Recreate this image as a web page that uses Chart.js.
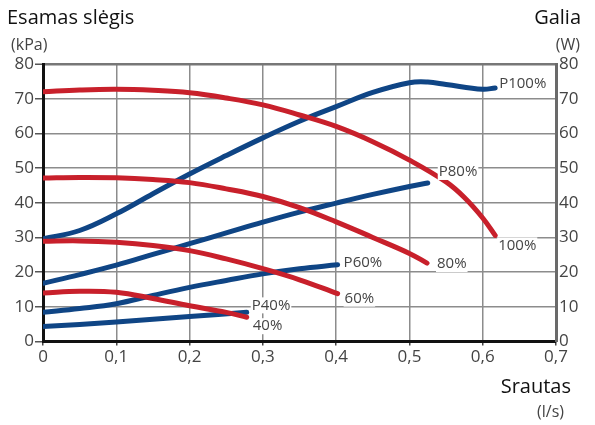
<!DOCTYPE html>
<html>
<head>
<meta charset="utf-8">
<script src="https://cdn.jsdelivr.net/npm/chart.js@4.4.1/dist/chart.umd.min.js"></script>
<style>
  html,body{margin:0;padding:0;background:#fff;}
  #wrap{position:relative;width:595px;height:425px;}
  canvas{display:block;}
</style>
</head>
<body>
<div id="wrap"><canvas id="c" width="595" height="425"></canvas></div>
<script>
// ---- data ----
const xTicks = [0, 0.1, 0.2, 0.3, 0.4, 0.5, 0.6, 0.7];
const yTicks = [0, 10, 20, 30, 40, 50, 60, 70, 80];

const pressureLabels = ['100%', '80%', '60%', '40%'];
const powerLabels = ['P100%', 'P80%', 'P60%', 'P40%'];

const flow100 = [0, 0.05, 0.1, 0.15, 0.2, 0.25, 0.3, 0.35, 0.4, 0.45, 0.5, 0.55, 0.575, 0.6, 0.617];
const press100 = [72.0, 72.5, 72.7, 72.4, 71.7, 70.2, 68.2, 65.3, 62.0, 57.6, 52.3, 46.0, 41.5, 35.6, 30.6];

const flow80 = [0, 0.05, 0.1, 0.15, 0.2, 0.25, 0.3, 0.35, 0.4, 0.45, 0.5, 0.524];
const press80 = [47.1, 47.3, 47.2, 46.7, 45.8, 44.0, 41.8, 38.6, 34.5, 30.0, 25.4, 22.6];

const flow60 = [0, 0.05, 0.1, 0.15, 0.2, 0.25, 0.3, 0.35, 0.402];
const press60 = [28.9, 29.0, 28.6, 27.7, 26.2, 23.8, 21.0, 17.8, 13.8];

const flow40 = [0, 0.05, 0.1, 0.15, 0.2, 0.25, 0.278];
const press40 = [14.0, 14.5, 14.2, 12.4, 10.3, 8.4, 7.0];

const flowP100 = [0, 0.05, 0.1, 0.15, 0.2, 0.25, 0.3, 0.35, 0.4, 0.45, 0.5, 0.525, 0.55, 0.6, 0.617];
const powerP100 = [29.6, 32.0, 36.8, 42.6, 48.3, 53.6, 58.7, 63.5, 67.7, 71.8, 74.6, 74.8, 74.1, 72.7, 73.1];

const flowP80 = [0, 0.05, 0.1, 0.15, 0.2, 0.25, 0.3, 0.35, 0.4, 0.45, 0.5, 0.525];
const powerP80 = [16.8, 19.3, 22.0, 25.1, 28.2, 31.3, 34.4, 37.3, 39.9, 42.4, 44.7, 45.7];

const flowP60 = [0, 0.05, 0.1, 0.15, 0.2, 0.25, 0.3, 0.35, 0.402];
const powerP60 = [8.4, 9.5, 10.9, 13.3, 15.6, 17.6, 19.5, 21.0, 22.1];

const flowP40 = [0, 0.1, 0.2, 0.278];
const powerP40 = [4.3, 5.6, 7.2, 8.4];

// ---- styling ----
const RED = '#c8202b';
const BLUE = '#0f4585';
const FONT = "'Open Sans', 'DejaVu Sans', sans-serif";

function pts(xs, ys) { return xs.map((x, i) => ({ x: x, y: ys[i] })); }

function mk(label, xs, ys, color, axis) {
  return {
    label: label,
    data: pts(xs, ys),
    borderColor: color,
    backgroundColor: color,
    borderWidth: 5,
    borderCapStyle: 'round',
    borderJoinStyle: 'round',
    pointRadius: 0,
    tension: 0.4,
    fill: false,
    yAxisID: axis
  };
}

const datasets = [
  mk(pressureLabels[0], flow100, press100, RED, 'yL'),
  mk(pressureLabels[1], flow80, press80, RED, 'yL'),
  mk(pressureLabels[2], flow60, press60, RED, 'yL'),
  mk(pressureLabels[3], flow40, press40, RED, 'yL'),
  mk(powerLabels[0], flowP100, powerP100, BLUE, 'yR'),
  mk(powerLabels[1], flowP80, powerP80, BLUE, 'yR'),
  mk(powerLabels[2], flowP60, powerP60, BLUE, 'yR'),
  mk(powerLabels[3], flowP40, powerP40, BLUE, 'yR')
];

// label offsets relative to each curve end (pixels): [dx, dy]
const endOffsets = [
  [3, 10], [10, 1], [7, 5], [6, 9],      // pressure labels
  [4, -4], [11, -11], [6, -2], [5, -7]   // power labels
];

const endLabels = {
  id: 'endLabels',
  afterDatasetsDraw(chart) {
    const ctx = chart.ctx;
    ctx.save();
    ctx.font = '15px ' + FONT;
    ctx.textBaseline = 'middle';
    ctx.textAlign = 'left';
    chart.data.datasets.forEach((ds, i) => {
      const last = ds.data[ds.data.length - 1];
      const xs = chart.scales.x;
      const ys = chart.scales[ds.yAxisID];
      const px = xs.getPixelForValue(last.x) + endOffsets[i][0];
      const py = ys.getPixelForValue(last.y) + endOffsets[i][1];
      const w = ctx.measureText(ds.label).width;
      ctx.fillStyle = '#fff';
      ctx.fillRect(px - 1, py - 8, w + 2, 16);
      ctx.fillStyle = '#444';
      ctx.fillText(ds.label, px, py);
    });
    ctx.restore();
  }
};

const titles = {
  id: 'titles',
  afterDraw(chart) {
    const ctx = chart.ctx;
    ctx.save();
    ctx.textBaseline = 'alphabetic';
    ctx.fillStyle = '#111';
    ctx.font = '20px ' + FONT;
    ctx.textAlign = 'left';
    ctx.fillText('Esamas slėgis', 7, 24);
    ctx.textAlign = 'right';
    ctx.fillText('Galia', 581, 24);
    ctx.fillText('Srautas', 571, 393);
    ctx.fillStyle = '#444';
    ctx.font = '16px ' + FONT;
    ctx.textAlign = 'left';
    ctx.fillText('(kPa)', 11, 50);
    ctx.textAlign = 'right';
    ctx.fillText('(W)', 580, 50);
    ctx.fillText('(l/s)', 564, 417);
    ctx.restore();
  }
};

const fmtX = v => (Math.abs(v) < 1e-9 ? '0' : v.toFixed(1).replace('.', ','));

new Chart(document.getElementById('c'), {
  type: 'line',
  data: { datasets: datasets },
  options: {
    responsive: false,
    animation: false,
    devicePixelRatio: 1,
    layout: { padding: { top: 64, left: 0, right: 0, bottom: 0 } },
    plugins: { legend: { display: false }, tooltip: { enabled: false } },
    scales: {
      x: {
        type: 'linear',
        min: 0, max: 0.7,
        afterBuildTicks: s => { s.ticks = xTicks.map(v => ({ value: v })); },
        afterFit: s => { s.height = 83.5; },
        ticks: {
          callback: v => fmtX(v),
          color: '#444',
          font: { size: 17, family: FONT },
          padding: 1,
          maxRotation: 0,
          autoSkip: false
        },
        grid: {
          color: '#8c8c8c',
          lineWidth: 1.5,
          tickLength: 4,
          tickColor: '#444',
          tickWidth: 1.5
        },
        border: { display: true, color: '#111', width: 3 }
      },
      yL: {
        type: 'linear',
        position: 'left',
        min: 0, max: 80,
        afterBuildTicks: s => { s.ticks = yTicks.map(v => ({ value: v })); },
        afterFit: s => { s.width = 43; },
        ticks: {
          color: '#444',
          font: { size: 17, family: FONT },
          padding: 1
        },
        grid: {
          color: ctx => (ctx.tick && ctx.tick.value === 80 ? '#777' : '#8c8c8c'),
          lineWidth: ctx => (ctx.tick && ctx.tick.value === 80 ? 2.5 : 1.5),
          tickLength: 8,
          tickColor: '#555',
          tickWidth: 1.5
        },
        border: { display: true, color: '#111', width: 3 }
      },
      yR: {
        type: 'linear',
        position: 'right',
        min: 0, max: 80,
        afterBuildTicks: s => { s.ticks = yTicks.map(v => ({ value: v })); },
        afterFit: s => { s.width = 39; },
        ticks: {
          color: '#444',
          font: { size: 17, family: FONT },
          padding: 3
        },
        grid: { drawOnChartArea: false, drawTicks: false },
        border: { display: true, color: '#6a6a6a', width: 3 }
      }
    }
  },
  plugins: [endLabels, titles]
});
</script>
</body>
</html>
